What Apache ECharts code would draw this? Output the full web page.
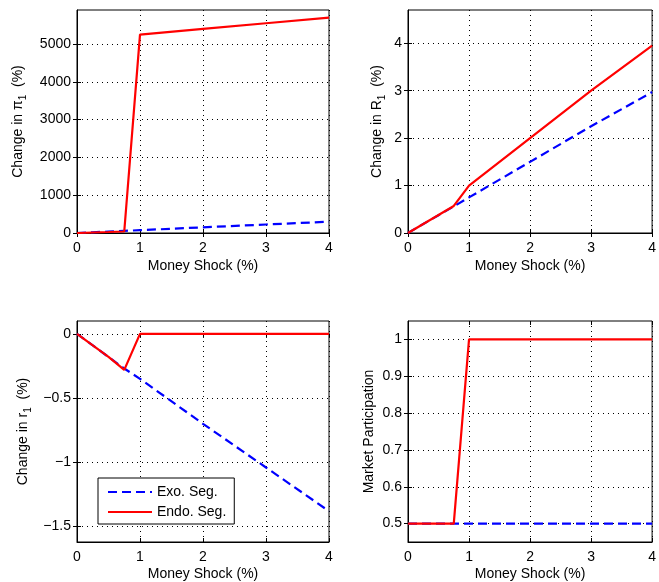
<!DOCTYPE html>
<html><head><meta charset="utf-8">
<script src="https://cdn.jsdelivr.net/npm/echarts@6/dist/echarts.min.js"></script>
<style>html,body{margin:0;padding:0;background:#fff}#c{width:659px;height:582px}</style>
</head><body><div id="c"></div>
<script>
const shock = [0, 0.25, 0.5, 0.75, 1, 2, 3, 4];
const piExo = [0, 19, 38, 56, 75, 150, 225, 300];
const piEndo = [0, 13, 26, 40, 5250, 5400, 5550, 5700];
const RExo = [0, 0.19, 0.375, 0.56, 0.75, 1.5, 2.25, 2.97];
const REndo = [0, 0.19, 0.38, 0.57, 1.0, 2.0, 3.0, 3.95];
const rExo = [0, -0.09, -0.18, -0.27, -0.35, -0.7, -1.04, -1.38];
const rEndo = [0, -0.09, -0.18, -0.28, 0, 0, 0, 0];
const mpExo = [0.5, 0.5, 0.5, 0.5, 0.5, 0.5, 0.5, 0.5];
const mpEndo = [0.5, 0.5, 0.5, 0.5, 1, 1, 1, 1];
const xTicks = [0, 1, 2, 3, 4];
const piTicks = [0, 1000, 2000, 3000, 4000, 5000];
const RTicks = [0, 1, 2, 3, 4];
const rTicks = [-1.5, -1, -0.5, 0];
const mpTicks = [0.5, 0.6, 0.7, 0.8, 0.9, 1];
const seriesNames = ['Exo. Seg.', 'Endo. Seg.'];

const FONT = 'Liberation Sans, Arial, Helvetica, sans-serif';
const FS = 14;
const chart = echarts.init(document.getElementById('c'));
const grids = [
  {left: 77, top: 10, width: 252, height: 223},
  {left: 408, top: 10, width: 253, height: 223},
  {left: 77, top: 321, width: 252, height: 223},
  {left: 408, top: 321, width: 253, height: 223}
];
const yCfg = [
  {min: 0, max: 5900, ticks: piTicks, name: 'Change in \u03c0{s|1}  (%)', gap: 49},
  {min: 0, max: 4.7, ticks: RTicks, name: 'Change in R{s|1}  (%)', gap: 21},
  {min: -1.62, max: 0.1, ticks: rTicks, name: 'Change in r{s|1}  (%)', gap: 44},
  {min: 0.45, max: 1.05, ticks: mpTicks, name: 'Market Participation', gap: 32}
];
const xGaps = [26, 26, 25, 25];
const data = [[piExo, piEndo], [RExo, REndo], [rExo, rEndo], [mpExo, mpEndo]];
const pairs = (xs, ys) => xs.map((x, i) => [x, ys[i]]);
const gridLine = {show: true, lineStyle: {color: '#000', type: [1, 4], width: 1}};
const fmt = v => (Math.round(v * 10) / 10).toString().replace('-', '\u2212');
const xAxes = [], yAxes = [], series = [];
grids.forEach((g, i) => {
  g.show = true; g.borderColor = '#000'; g.borderWidth = 1; g.containLabel = false;
  xAxes.push({type: 'value', gridIndex: i, min: 0, max: 4,
    name: 'Money Shock (%)', nameLocation: 'middle', nameGap: xGaps[i],
    nameTextStyle: {fontFamily: FONT, fontSize: FS, color: '#000'},
    axisLine: {show: true, onZero: false, lineStyle: {color: '#000'}},
    axisTick: {inside: true, length: 4, lineStyle: {color: '#000'}, customValues: xTicks},
    axisLabel: {fontFamily: FONT, fontSize: FS, color: '#000', margin: 8, customValues: xTicks, formatter: fmt},
    splitLine: gridLine});
  xAxes.push({type: 'value', gridIndex: i, min: 0, max: 4, position: 'top',
    axisLine: {show: false}, axisTick: {inside: true, length: 4, lineStyle: {color: '#000'}, customValues: xTicks},
    axisLabel: {show: false}, splitLine: {show: false}});
  const y = yCfg[i];
  yAxes.push({type: 'value', gridIndex: i, min: y.min, max: y.max,
    name: y.name, nameLocation: 'middle', nameGap: y.gap, nameRotate: 90,
    nameTextStyle: {fontFamily: FONT, fontSize: FS, color: '#000',
      rich: {s: {fontFamily: FONT, fontSize: 10, color: '#000', padding: [9, 0, 0, 0]}}},
    axisLine: {show: true, onZero: false, lineStyle: {color: '#000'}},
    axisTick: {inside: true, length: 4, lineStyle: {color: '#000'}, customValues: y.ticks},
    axisLabel: {fontFamily: FONT, fontSize: FS, color: '#000', margin: 6, customValues: y.ticks, formatter: fmt},
    splitLine: gridLine});
  yAxes.push({type: 'value', gridIndex: i, min: y.min, max: y.max, position: 'right',
    axisLine: {show: false}, axisTick: {inside: true, length: 4, lineStyle: {color: '#000'}, customValues: y.ticks},
    axisLabel: {show: false}, splitLine: {show: false}});
  series.push({name: seriesNames[0], type: 'line', xAxisIndex: 2 * i, yAxisIndex: 2 * i,
    data: pairs(shock, data[i][0]), showSymbol: false, symbol: 'none', z: 2,
    lineStyle: {color: '#0000ff', width: 2.2, type: [9, 5]}, itemStyle: {color: '#0000ff'}});
  series.push({name: seriesNames[1], type: 'line', xAxisIndex: 2 * i, yAxisIndex: 2 * i,
    data: pairs(shock, data[i][1]), showSymbol: false, symbol: 'none', z: 3,
    lineStyle: {color: '#ff0000', width: 2.2}, itemStyle: {color: '#ff0000'}});
});
chart.setOption({
  animation: false,
  grid: grids, xAxis: xAxes, yAxis: yAxes, series: series,
  legend: {data: seriesNames, orient: 'vertical', left: 98, top: 478,
    padding: [7, 8, 5, 9], itemWidth: 44, itemHeight: 14, itemGap: 6,
    itemStyle: {opacity: 0},
    borderColor: '#000', borderWidth: 1, backgroundColor: '#fff', borderRadius: 0,
    textStyle: {fontFamily: FONT, fontSize: FS, color: '#000'}}
});
</script></body></html>
